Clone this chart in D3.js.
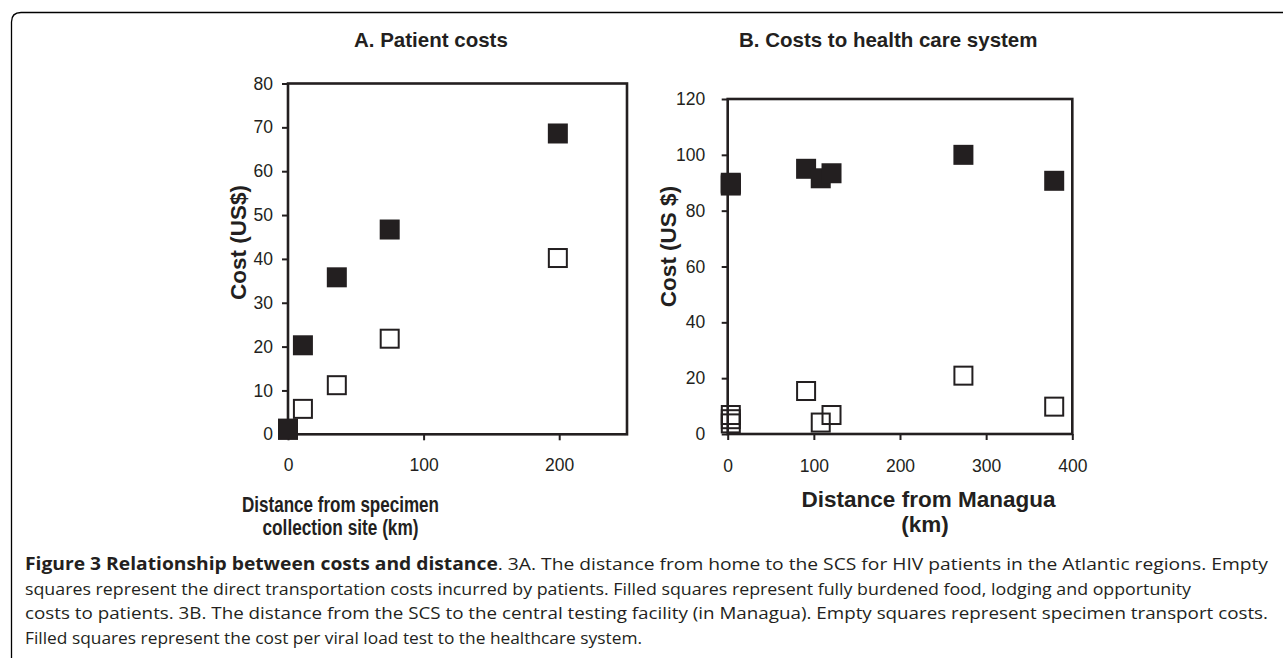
<!DOCTYPE html>
<html>
<head>
<meta charset="utf-8">
<script src="https://cdn.jsdelivr.net/npm/d3@7"></script>
<style>
html,body{margin:0;padding:0;background:#fff;}
svg{display:block;}
</style>
</head>
<body>
<svg id="chart" width="1283" height="663"></svg>
<script>
// ---- Data ----
const distA = [0, 11, 36, 75, 199];               // km, panel A
const filledA = [1.3, 20.3, 35.8, 46.7, 68.6];     // US$ fully burdened costs
const emptyA = [1.0, 5.8, 11.2, 21.8, 40.2];       // US$ direct transport costs

const distB = [3.6, 3.6, 3.6, 91, 108, 120.5, 273.6, 379]; // km from Managua
const filledB = [89.0, 89.5, 90.0, 95.0, 91.6, 93.4, 100.0, 90.7]; // cost per VL test
const emptyB = [6.8, 5.3, 3.8, 15.4, 4.1, 6.8, 20.9, 9.8];          // specimen transport

const ticksAx = [0, 100, 200];
const ticksAy = [0, 10, 20, 30, 40, 50, 60, 70, 80];
const ticksBx = [0, 100, 200, 300, 400];
const ticksBy = [0, 20, 40, 60, 80, 100, 120];

const titleA = "A. Patient costs";
const titleB = "B. Costs to health care system";
const yTitleA = "Cost (US$)";
const yTitleB = "Cost (US $)";
const xTitleA = ["Distance from specimen", "collection site (km)"];
const xTitleB = ["Distance from Managua", "(km)"];

const captionBold = "Figure 3 Relationship between costs and distance";
const captionLines = [
  ". 3A. The distance from home to the SCS for HIV patients in the Atlantic regions. Empty",
  "squares represent the direct transportation costs incurred by patients. Filled squares represent fully burdened food, lodging and opportunity",
  "costs to patients. 3B. The distance from the SCS to the central testing facility (in Managua). Empty squares represent specimen transport costs.",
  "Filled squares represent the cost per viral load test to the healthcare system."
];

// ---- Drawing ----
const ink = "#231f20";
const svg = d3.select("#chart");
const chartFont = "'Liberation Sans', Arial, Helvetica, sans-serif";

// figure frame
svg.append("path")
  .attr("d", "M11.5,658 V22 Q11.5,12.5 21,12.5 H1283")
  .attr("fill", "none").attr("stroke", "#000").attr("stroke-width", 1.3);

function panel(cfg) {
  const g = svg.append("g");
  const x = d3.scaleLinear().domain(cfg.xDomain).range([cfg.left, cfg.right]);
  const y = d3.scaleLinear().domain(cfg.yDomain).range([cfg.bottom, cfg.top]);

  const yAxis = g.append("g").attr("transform", `translate(${cfg.left},0)`)
    .call(d3.axisLeft(y).tickValues(cfg.yTicks).tickSize(6).tickPadding(cfg.yPad).tickFormat(d3.format("d")));
  const xAxis = g.append("g").attr("transform", `translate(0,${cfg.bottom})`)
    .call(d3.axisBottom(x).tickValues(cfg.xTicks).tickSize(6).tickPadding(cfg.xPad).tickFormat(d3.format("d")));
  [xAxis, yAxis].forEach(a => {
    a.select(".domain").remove();
    a.selectAll(".tick line").attr("stroke", ink).attr("stroke-width", 2);
    a.selectAll(".tick text").attr("fill", ink)
      .style("font-family", chartFont).style("font-size", "17.5px");
  });

  // plot box
  g.append("rect")
    .attr("x", cfg.left).attr("y", cfg.top)
    .attr("width", cfg.right - cfg.left).attr("height", cfg.bottom - cfg.top)
    .attr("fill", "none").attr("stroke", ink).attr("stroke-width", 2.6);

  const s = 20;
  // empty squares
  g.append("g").selectAll("rect").data(cfg.xs.map((d, i) => [d, cfg.empty[i]]))
    .join("rect")
    .attr("x", d => x(d[0]) - (s - 2) / 2).attr("y", d => y(d[1]) - (s - 2) / 2)
    .attr("width", s - 2).attr("height", s - 2)
    .attr("fill", "none").attr("stroke", ink).attr("stroke-width", 2);
  // filled squares
  g.append("g").selectAll("rect").data(cfg.xs.map((d, i) => [d, cfg.filled[i]]))
    .join("rect")
    .attr("x", d => x(d[0]) - s / 2).attr("y", d => y(d[1]) - s / 2)
    .attr("width", s).attr("height", s)
    .attr("fill", ink);

  // panel title
  g.append("text").attr("x", cfg.titleX).attr("y", 47)
    .attr("fill", ink).style("font-family", chartFont).style("font-weight", "bold")
    .style("font-size", "20.5px").text(cfg.title);

  // y title
  g.append("text")
    .attr("transform", `translate(${cfg.yTitleX},${cfg.yTitleY}) rotate(-90)`)
    .attr("text-anchor", "middle")
    .attr("fill", ink).style("font-family", chartFont).style("font-weight", "bold")
    .style("font-size", "22.5px").text(cfg.yTitle);

  // x title
  cfg.xTitle.forEach((t, i) => {
    const tx = g.append("text").attr("x", cfg.xTitleX[i]).attr("y", cfg.xTitleY[i])
      .attr("text-anchor", "middle")
      .attr("fill", ink).style("font-family", chartFont).style("font-weight", "bold")
      .style("font-size", "22.5px").text(t);
    if (cfg.xTitleLen) {
      tx.attr("textLength", cfg.xTitleLen[i]).attr("lengthAdjust", "spacingAndGlyphs");
    }
  });
}

panel({
  xDomain: [0, 250], yDomain: [0, 80], left: 288, right: 627, top: 83.5, bottom: 434.3,
  xTicks: ticksAx, yTicks: ticksAy, xPad: 18, yPad: 9,
  xs: distA, filled: filledA, empty: emptyA,
  title: titleA, titleX: 354,
  yTitle: yTitleA, yTitleX: 246, yTitleY: 242.5,
  xTitle: xTitleA, xTitleX: [340.5, 340.5], xTitleY: [511.5, 535], xTitleLen: [197, 156]
});

panel({
  xDomain: [0, 400], yDomain: [0, 120], left: 727.7, right: 1072.3, top: 99, bottom: 434,
  xTicks: ticksBx, yTicks: ticksBy, xPad: 20, yPad: 16.5,
  xs: distB, filled: filledB, empty: emptyB,
  title: titleB, titleX: 739,
  yTitle: yTitleB, yTitleX: 676, yTitleY: 246.5,
  xTitle: xTitleB, xTitleX: [928.5, 925], xTitleY: [506.7, 531.7]
});

// caption
const capFont = "'Open Sans', 'Noto Sans', sans-serif";
const capY = [570, 594.5, 619, 643.5];
const capLen = [1243, 1166, 1243, 617];
captionLines.forEach((line, i) => {
  const t = svg.append("text").attr("x", 25).attr("y", capY[i])
    .attr("fill", "#231f20").style("font-family", capFont).style("font-size", "17px");
  if (i === 0) {
    t.append("tspan").style("font-weight", "bold").text(captionBold);
  }
  t.append("tspan").text(line);
  t.attr("textLength", capLen[i]).attr("lengthAdjust", "spacingAndGlyphs");
});
</script>
</body>
</html>
